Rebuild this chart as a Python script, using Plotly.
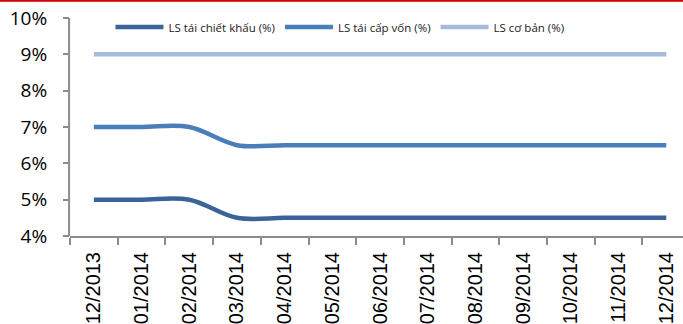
import plotly.graph_objects as go

# Monthly policy rates (%)
months = ["12/2013", "01/2014", "02/2014", "03/2014", "04/2014", "05/2014", "06/2014",
          "07/2014", "08/2014", "09/2014", "10/2014", "11/2014", "12/2014"]
discount_rate = [5.0, 5.0, 5.0, 4.5, 4.5, 4.5, 4.5, 4.5, 4.5, 4.5, 4.5, 4.5, 4.5]
refinance_rate = [7.0, 7.0, 7.0, 6.5, 6.5, 6.5, 6.5, 6.5, 6.5, 6.5, 6.5, 6.5, 6.5]
base_rate = [9.0, 9.0, 9.0, 9.0, 9.0, 9.0, 9.0, 9.0, 9.0, 9.0, 9.0, 9.0, 9.0]

y_ticks = [4, 5, 6, 7, 8, 9, 10]
y_labels = [f"{v}%" for v in y_ticks]

series = [
    ("LS tái chiết khấu (%)", discount_rate, "#3a6499"),
    ("LS tái cấp vốn (%)", refinance_rate, "#4a7ebb"),
    ("LS cơ bản (%)", base_rate, "#a8bad9"),
]

fig = go.Figure()
for name, vals, color in series:
    fig.add_trace(go.Scatter(
        x=months, y=vals, name=name, mode="lines",
        line=dict(color=color, width=4.5, shape="spline", smoothing=1.0),
    ))

W, H = 683, 324
M_L, M_R, M_T, M_B = 70, 0, 0, 88
plot_h = H - M_T - M_B            # plot area reaches the top edge of the page
y_min, y_max = y_ticks[0], y_ticks[-1]
px_per_unit = (plot_h - 18) / (y_max - y_min)
y_top = y_max + 18 / px_per_unit  # headroom above the 10% tick

axis_grey = "#8c8c8c"
fig.update_layout(
    width=W, height=H,
    margin=dict(l=M_L, r=M_R, t=M_T, b=M_B),
    paper_bgcolor="white", plot_bgcolor="white",
    showlegend=True,
    legend=dict(
        orientation="h", x=0.066, y=1 - 27 / plot_h, xanchor="left", yanchor="middle",
        font=dict(family="Open Sans", size=11.5, color="#1a1a1a"),
        itemwidth=48, bgcolor="rgba(0,0,0,0)",
    ),
    xaxis=dict(
        type="category", range=[-0.5, 12.35], automargin=False,
        tickson="boundaries", ticks="outside", ticklen=7, tickcolor=axis_grey, tickwidth=2,
        showline=True, linecolor=axis_grey, linewidth=2, showgrid=False,
        tickangle=-90, tickfont=dict(family="Liberation Sans", size=20, color="black"),
        ticklabelstandoff=6,
    ),
    yaxis=dict(
        range=[y_min, y_top], tickvals=y_ticks, ticktext=y_labels, automargin=False,
        ticks="outside", ticklen=6, tickcolor=axis_grey, tickwidth=2,
        showline=False, showgrid=False, zeroline=False,
        tickfont=dict(family="Open Sans", size=19, color="black"),
        ticklabelstandoff=12,
    ),
)

# Vertical axis line, stopping at the 10% tick
fig.add_shape(type="line", xref="paper", yref="y", x0=-0.0015, x1=-0.0015,
              y0=y_min, y1=y_max, line=dict(color=axis_grey, width=2))

# Red rule along the top edge of the page
fig.add_shape(type="line", xref="paper", yref="paper", x0=-M_L / (W - M_L), x1=1.0,
              y0=1 - 0.9 / plot_h, y1=1 - 0.9 / plot_h,
              line=dict(color="#cc0000", width=1.8))

fig.write_html("out.html")
